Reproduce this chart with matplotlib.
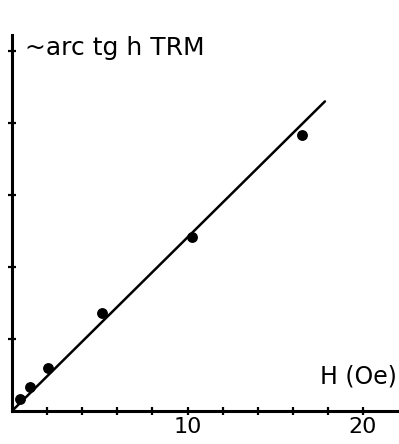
import matplotlib
matplotlib.use("Agg")
import matplotlib.pyplot as plt

# data
field_oe = [0.43, 1.03, 2.07, 5.11, 10.24, 16.51]
arctgh_trm = [0.17, 0.34, 0.60, 1.36, 2.41, 3.83]
fit_x = [0.0, 17.83]
fit_y = [0.0, 4.30]
x_tick_labels = {10: "10", 20: "20"}

W, H = 399, 444
fig = plt.figure(figsize=(W / 100, H / 100), dpi=100)
left, right, top, bottom = 12, 398, 35, 411
ax = fig.add_axes([left / W, (H - bottom) / H, (right - left) / W, (bottom - top) / H])
ax.set_xlim(0, (right - left) / 17.55)
ax.set_ylim(0, (bottom - top) / 72.0)

ax.plot(fit_x, fit_y, color="black", lw=1.8, solid_capstyle="round")
ax.plot(field_oe, arctgh_trm, "o", color="black", ms=6.8)

for s in ["top", "right"]:
    ax.spines[s].set_visible(False)
for s in ["left", "bottom"]:
    ax.spines[s].set_linewidth(2.2)

ax.set_xticks([t for t in range(2, 21, 2)])
ax.set_xticklabels([x_tick_labels.get(t, "") for t in range(2, 21, 2)])
ax.set_yticks([1, 2, 3, 4, 5])
ax.set_yticklabels([])
ax.tick_params(axis="both", direction="inout", length=6, width=1.6, color="black",
               labelsize=16, pad=1.5)

fig.text(25 / W, 1 - 48 / H, "~arc tg h TRM", fontsize=18, ha="left", va="center",
         family="DejaVu Sans")
fig.text(397 / W, 1 - 376 / H, "H (Oe)", fontsize=17, ha="right", va="center",
         family="DejaVu Sans")

fig.savefig("out.png", dpi=100)
